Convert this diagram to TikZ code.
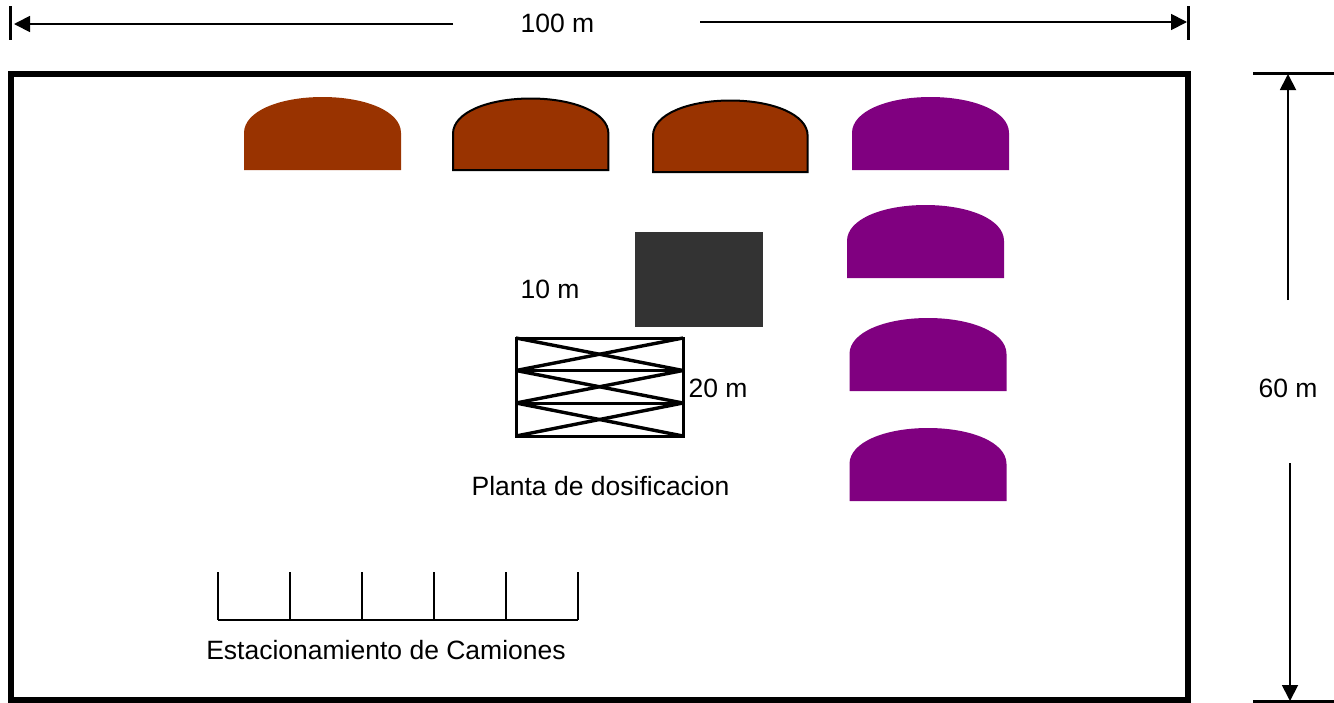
\documentclass[tikz,border=0pt]{standalone}
\usepackage{fontspec}
\setmainfont{Liberation Sans}
\usetikzlibrary{arrows.meta}
\tikzset{
  x=1pt,y=-1pt,
  lbl/.style={font=\fontsize{26.5}{29}\selectfont,inner sep=0pt,text=black},
  dimline/.style={line width=1.8pt,-{Triangle[length=16pt,width=16pt]}},
  tick/.style={line width=3pt},
  parkline/.style={line width=1.6pt},
  xline/.style={line width=3.4pt},
  xframe/.style={line width=3pt},
  domebrown/.style={fill=domeB},
  domepurple/.style={fill=domeP},
  dome/.pic={
    \path[pic actions] (0,73) -- (0,36) .. controls (0,14) and (36,0) .. (78.5,0)
      .. controls (121,0) and (157,14) .. (157,36) -- (157,73) -- cycle;
  }
}
\definecolor{domeB}{HTML}{993300}
\definecolor{domeP}{HTML}{800080}
\definecolor{darkbox}{HTML}{333333}
\begin{document}
\begin{tikzpicture}
\useasboundingbox (0,0) rectangle (1334,702);
% site border
\node[draw=black,line width=6pt,outer sep=0pt,minimum width=1177pt,minimum height=626pt,inner sep=0pt,anchor=north west] (site) at (11,74) {};
% domes
\pic[domebrown] at (244,97) {dome};
\pic[domebrown,draw=black,line width=2pt,xscale=.99,yscale=.98] at (453,98.5) {dome};
\pic[domebrown,draw=black,line width=2pt,xscale=.985,yscale=.98] at (653,100.5) {dome};
\pic[domepurple] at (852,97) {dome};
\pic[domepurple] at (847,205) {dome};
\pic[domepurple] at (849.5,318) {dome};
\pic[domepurple] at (849.5,428) {dome};
% dark square
\node[fill=darkbox,outer sep=0pt,minimum width=128pt,minimum height=95pt,inner sep=0pt,anchor=north west] (hopper) at (635,232) {};
% batching plant
\coordinate (a0) at (516,338); \coordinate (b0) at (683,338);
\coordinate (a1) at (516,370.5); \coordinate (b1) at (683,370.5);
\coordinate (a2) at (516,403); \coordinate (b2) at (683,403);
\coordinate (a3) at (516,436); \coordinate (b3) at (683,436);
\draw[xframe] (a0) rectangle (b3);
\draw[xframe] (a1) -- (b1);
\draw[xframe] (a2) -- (b2);
\draw[xline] (a0) -- (b1);
\draw[xline] (b0) -- (a1);
\draw[xline] (a1) -- (b2);
\draw[xline] (b1) -- (a2);
\draw[xline] (a2) -- (b3);
\draw[xline] (b2) -- (a3);
% parking
\coordinate (p0) at (218,620); \coordinate (p5) at (578,620);
\draw[parkline] (p0) -- (p5);
\foreach \i/\xx in {0/218,1/290,2/362,3/434,4/506,5/578}
  \draw[parkline] (\xx,572) -- (\xx,620);
% dimensions
\coordinate (t1a) at (10.5,6); \coordinate (t1b) at (10.5,40);
\coordinate (t2a) at (1188,6); \coordinate (t2b) at (1188,40);
\draw[tick] (t1a) -- (t1b);
\draw[tick] (t2a) -- (t2b);
\coordinate (h1s) at (453,24); \coordinate (h1e) at (14,24);
\coordinate (h2s) at (700,22); \coordinate (h2e) at (1187,22);
\draw[dimline] (h1s) -- (h1e);
\draw[dimline] (h2s) -- (h2e);
\coordinate (r1a) at (1253,73); \coordinate (r1b) at (1334,73);
\coordinate (r2a) at (1253,701); \coordinate (r2b) at (1334,701);
\draw[tick] (r1a) -- (r1b);
\draw[tick] (r2a) -- (r2b);
\coordinate (v1s) at (1288,300); \coordinate (v1e) at (1288,74);
\coordinate (v2s) at (1290,463); \coordinate (v2e) at (1290,701);
\draw[dimline] (v1s) -- (v1e);
\draw[dimline] (v2s) -- (v2e);
% labels
\node[lbl] (l100) at (557.5,23) {100 m};
\node[lbl] (l10) at (550,289) {10 m};
\node[lbl] (l20) at (718,388) {20 m};
\node[lbl] (l60) at (1288,388) {60 m};
\node[lbl] (lplanta) at (600.5,486) {Planta de dosificacion};
\node[lbl] (lcam) at (386,650) {Estacionamiento de Camiones};
\end{tikzpicture}
\end{document}
